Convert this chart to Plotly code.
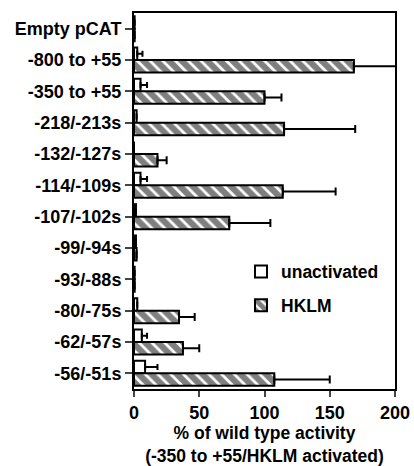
import plotly.graph_objects as go

categories = ["Empty pCAT", "-800 to +55", "-350 to +55", "-218/-213s", "-132/-127s",
              "-114/-109s", "-107/-102s", "-99/-94s", "-93/-88s", "-80/-75s",
              "-62/-57s", "-56/-51s"]
unactivated = [0.5, 2.5, 5, 2, 0, 5, 1.5, 1.5, 0.5, 2.5, 6, 8.5]
unactivated_err = [0, 4, 5, 0, 0, 5, 0, 0, 0, 0, 4, 9.5]
hklm = [0.5, 168.5, 100, 115, 18, 114, 73, 2, 0.5, 34.5, 37.5, 107.5]
hklm_err = [0, 40, 13, 54.5, 7, 40.5, 31.5, 0, 0, 12, 12.5, 42.5]
x_ticks = [0, 50, 100, 150, 200]

FONT = "Liberation Sans, Arial, sans-serif"

fig = go.Figure()
fig.add_trace(go.Bar(
    y=categories, x=unactivated, orientation="h", name="unactivated",
    legendgroup="a",
    marker=dict(color="white", line=dict(color="black", width=2)),
    error_x=dict(type="data", array=unactivated_err, arrayminus=[0]*len(categories),
                 symmetric=False, color="black", thickness=2, width=3),
))
fig.add_trace(go.Bar(
    y=categories, x=hklm, orientation="h", name="HKLM",
    legendgroup="b",
    marker=dict(color="white", line=dict(color="black", width=2),
                pattern=dict(shape="\\", fgcolor="black", bgcolor="white",
                             size=9, solidity=0.7, fillmode="overlay")),
    error_x=dict(type="data", array=hklm_err, arrayminus=[0]*len(categories),
                 symmetric=False, color="black", thickness=2, width=4),
))

fig.update_layout(
    width=414, height=466,
    margin=dict(l=134, r=19, t=13, b=77, autoexpand=False),
    plot_bgcolor="white", paper_bgcolor="white",
    barmode="group", bargap=0.2, bargroupgap=0.0,
    font=dict(family=FONT, size=17, color="black", weight="bold"),
    showlegend=True,
    legend=dict(x=0.41, y=0.36, xanchor="left", yanchor="top",
                bgcolor="rgba(0,0,0,0)", traceorder="grouped",
                tracegroupgap=8, font=dict(size=17.5, family=FONT, weight="bold")),
    xaxis=dict(range=[0, 200], tickvals=x_ticks, ticks="outside", ticklen=6,
               tickwidth=2, showline=True, linewidth=2, linecolor="black",
               mirror=True, showgrid=False, zeroline=False, automargin=False,
               tickfont=dict(size=18, family=FONT, weight="bold"),
               title=dict(text="% of wild type activity<br>(-350 to +55/HKLM activated)",
                          font=dict(size=17.5, family=FONT, weight="bold"), standoff=12)),
    yaxis=dict(autorange="reversed", ticks="outside", ticklen=7, tickwidth=2,
               showline=True, linewidth=2, linecolor="black", mirror=True,
               showgrid=False, zeroline=False, automargin=False,
               tickfont=dict(size=18, family=FONT, weight="bold")),
)

fig.write_html("out.html")
